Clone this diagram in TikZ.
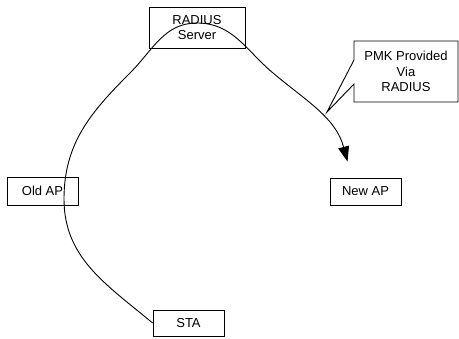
\documentclass[tikz,border=0pt]{standalone}
\usepackage{fontspec}
\setmainfont{Liberation Sans}
\usetikzlibrary{positioning, arrows.meta}

\begin{document}
\begin{tikzpicture}[
    x=1pt, y=1pt, % one unit per pixel of the sketch
    every node/.style={font=\fontsize{13}{15.5}\selectfont}, % same text size everywhere
    box/.style={draw, line width=0.9pt, minimum width=71pt, minimum height=27pt, inner sep=0pt},
    link/.style={line width=0.9pt, -{Triangle[length=15pt, width=11pt]}}
]
    \useasboundingbox (0, 0) rectangle (459, 339);

    % Define the nodes using (x, y) coordinates
    \node[box, minimum width=96pt, minimum height=41pt, align=center] (Server) at (197, 311.5) {RADIUS\\Server};
    % Left, halfway down
    \node[box, minimum height=28pt] (OldAP) at (42.5, 148) {Old AP};
    % Right, same height as OldAP
    \node[box] (NewAP) at (365.5, 147.5) {New AP};
    % Bottom, below Server
    \node[box, minimum height=26pt] (STA) at (188.5, 16) {STA};

    % Callout text, top right
    \node[minimum width=104pt, minimum height=61pt, outer sep=0pt, align=center] (Note) at (406, 267.5)
        {PMK Provided\\Via\\RADIUS};
    \coordinate (NoteTip) at (327, 227);
    \coordinate (ArrowEnd) at ([shift={(-18, 16)}]NewAP.north);

    % 1. STA through OldAP and Server down to NewAP
    \draw[link] (STA.west) to[out=140, in=-90] (64, 140)
        to[out=90, in=225] (130, 266)
        to[out=45, in=180] (197, 316)
        to[out=0, in=140] (273, 266)
        to[out=-40, in=105] (ArrowEnd);

    % 2. Callout outline, pointing at the link
    \draw[line width=0.9pt] (Note.north west) -- (Note.north east) -- (Note.south east)
        -- (Note.south west) -- ([yshift=18pt]Note.south west) -- (NoteTip)
        -- ([yshift=-19pt]Note.north west) -- cycle;

\end{tikzpicture}
\end{document}
